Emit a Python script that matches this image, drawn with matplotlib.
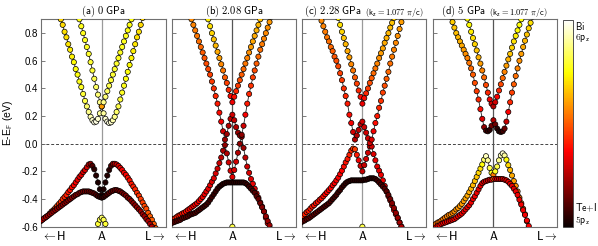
import numpy as np
import matplotlib
matplotlib.use('Agg')
import matplotlib.pyplot as plt
import matplotlib.transforms as mtransforms
from matplotlib.cm import ScalarMappable
from matplotlib.colors import Normalize
from matplotlib.ticker import FormatStrFormatter

plt.rcParams['mathtext.fontset'] = 'cm'
plt.rcParams['font.family'] = ['Liberation Sans', 'DejaVu Sans']
plt.rcParams['axes.unicode_minus'] = False

# ---------------------------------------------------------------------------
# Data: energies (eV) on a uniform k mesh (step DK), weights = Bi 6pz share
# ---------------------------------------------------------------------------
DK = 0.03

# (a) 0 GPa
A_C1_K0 = -0.69
A_C1_E = [0.95, 0.90, 0.86, 0.81, 0.77, 0.72, 0.68, 0.63, 0.59, 0.54,
          0.50, 0.45, 0.41, 0.36, 0.31, 0.27, 0.23, 0.195, 0.17, 0.155,
          0.16, 0.18, 0.22, 0.27, 0.22, 0.18, 0.16, 0.15, 0.155, 0.17,
          0.195, 0.23, 0.27, 0.32, 0.37, 0.42, 0.47, 0.52, 0.57, 0.62,
          0.67, 0.72, 0.77, 0.81, 0.86, 0.91]
A_C1_W = [0.68, 0.68, 0.69, 0.70, 0.70, 0.71, 0.72, 0.73, 0.74, 0.75,
          0.76, 0.77, 0.78, 0.80, 0.82, 0.85, 0.88, 0.92, 0.95, 0.97,
          0.97, 0.95, 0.90, 0.60, 0.90, 0.95, 0.97, 0.97, 0.95, 0.92,
          0.88, 0.85, 0.82, 0.80, 0.78, 0.77, 0.76, 0.75, 0.74, 0.73,
          0.72, 0.71, 0.70, 0.70, 0.69, 0.68]
A_C2_K0 = -0.39
A_C2_E = [0.95, 0.90, 0.85, 0.80, 0.75, 0.70, 0.65, 0.59, 0.53, 0.47,
          0.41, 0.355, 0.30, 0.27, 0.30, 0.34, 0.38, 0.42, 0.46, 0.50,
          0.54, 0.58, 0.62, 0.66, 0.70, 0.74, 0.78, 0.82, 0.86, 0.90,
          0.94]
A_C2_W = [0.76, 0.76, 0.77, 0.77, 0.78, 0.78, 0.79, 0.80, 0.80, 0.82,
          0.84, 0.86, 0.88, 0.60, 0.88, 0.86, 0.84, 0.82, 0.80, 0.80,
          0.79, 0.79, 0.78, 0.78, 0.78, 0.77, 0.77, 0.76, 0.76, 0.76,
          0.76]
A_V1_K0 = -0.99
A_V1_E = [-0.56, -0.55, -0.54, -0.53, -0.52, -0.505, -0.49, -0.48, -0.465, -0.45,
          -0.435, -0.42, -0.40, -0.385, -0.37, -0.35, -0.335, -0.315, -0.30, -0.28,
          -0.26, -0.24, -0.225, -0.205, -0.19, -0.17, -0.15, -0.145, -0.16, -0.185,
          -0.23, -0.28, -0.33, -0.37, -0.33, -0.28, -0.23, -0.19, -0.16, -0.145,
          -0.145, -0.15, -0.16, -0.175, -0.19, -0.21, -0.225, -0.245, -0.265, -0.29,
          -0.31, -0.33, -0.355, -0.375, -0.40, -0.425, -0.45, -0.47, -0.50, -0.525,
          -0.55, -0.58, -0.61]
A_V1_W = [0.52, 0.52, 0.51, 0.51, 0.50, 0.50, 0.49, 0.48, 0.47, 0.46,
          0.45, 0.44, 0.43, 0.42, 0.41, 0.40, 0.39, 0.38, 0.37, 0.36,
          0.35, 0.34, 0.33, 0.32, 0.31, 0.30, 0.27, 0.20, 0.10, 0.05,
          0.04, 0.03, 0.03, 0.03, 0.03, 0.03, 0.04, 0.05, 0.10, 0.20,
          0.27, 0.30, 0.32, 0.34, 0.35, 0.36, 0.37, 0.38, 0.39, 0.40,
          0.41, 0.42, 0.43, 0.44, 0.45, 0.46, 0.47, 0.48, 0.49, 0.50,
          0.50, 0.50, 0.50]
A_V2_K0 = -0.99
A_V2_E = [-0.56, -0.55, -0.54, -0.53, -0.52, -0.51, -0.50, -0.49, -0.48, -0.47,
          -0.46, -0.45, -0.44, -0.43, -0.42, -0.41, -0.40, -0.39, -0.38, -0.37,
          -0.365, -0.355, -0.35, -0.345, -0.345, -0.345, -0.345, -0.35, -0.355, -0.36,
          -0.37, -0.38, -0.385, -0.39, -0.385, -0.375, -0.365, -0.355, -0.345, -0.34,
          -0.335, -0.335, -0.34, -0.345, -0.355, -0.365, -0.375, -0.39, -0.40, -0.415,
          -0.43, -0.445, -0.46, -0.475, -0.49, -0.51, -0.525, -0.545, -0.56, -0.58,
          -0.60, -0.62]
A_V2_W = [0.25, 0.25, 0.24, 0.24, 0.23, 0.23, 0.22, 0.22, 0.21, 0.21,
          0.20, 0.20, 0.20, 0.20, 0.19, 0.19, 0.19, 0.19, 0.18, 0.18,
          0.18, 0.17, 0.17, 0.16, 0.16, 0.15, 0.15, 0.14, 0.13, 0.12,
          0.10, 0.08, 0.06, 0.05, 0.06, 0.08, 0.10, 0.12, 0.13, 0.14,
          0.15, 0.15, 0.16, 0.16, 0.17, 0.17, 0.18, 0.18, 0.19, 0.19,
          0.20, 0.20, 0.21, 0.21, 0.22, 0.22, 0.23, 0.23, 0.24, 0.24,
          0.25, 0.25]
A_V3_K0 = -0.09
A_V3_E = [-0.63, -0.58, -0.55, -0.535, -0.55, -0.58, -0.63]
A_V3_W = [0.78, 0.80, 0.82, 0.85, 0.82, 0.80, 0.78]

# (b) 2.08 GPa
B_C1_K0 = -0.69
B_C1_E = [0.94, 0.90, 0.86, 0.82, 0.78, 0.74, 0.70, 0.66, 0.62, 0.58,
          0.54, 0.50, 0.45, 0.40, 0.345, 0.29, 0.225, 0.16, 0.09, 0.03,
          0.07, 0.13, 0.18, 0.21, 0.17, 0.12, 0.08, 0.06, 0.065, 0.13,
          0.21, 0.29, 0.36, 0.42, 0.48, 0.53, 0.58, 0.63, 0.68, 0.72,
          0.76, 0.80, 0.84, 0.88, 0.92]
B_C1_W = [0.58, 0.57, 0.56, 0.55, 0.54, 0.53, 0.52, 0.50, 0.49, 0.48,
          0.47, 0.46, 0.45, 0.43, 0.42, 0.40, 0.38, 0.35, 0.30, 0.22,
          0.22, 0.25, 0.28, 0.30, 0.28, 0.25, 0.22, 0.20, 0.20, 0.30,
          0.36, 0.40, 0.42, 0.44, 0.46, 0.48, 0.50, 0.52, 0.53, 0.55,
          0.56, 0.57, 0.58, 0.59, 0.60]
B_C2_K0 = -0.42
B_C2_E = [0.95, 0.90, 0.85, 0.80, 0.755, 0.71, 0.665, 0.62, 0.575, 0.53,
          0.48, 0.44, 0.39, 0.345, 0.30, 0.34, 0.38, 0.42, 0.46, 0.50,
          0.54, 0.58, 0.62, 0.66, 0.70, 0.74, 0.78, 0.82, 0.86, 0.90,
          0.94]
B_C2_W = [0.72, 0.72, 0.70, 0.68, 0.66, 0.64, 0.62, 0.60, 0.57, 0.54,
          0.50, 0.46, 0.42, 0.38, 0.34, 0.38, 0.42, 0.45, 0.48, 0.50,
          0.52, 0.54, 0.56, 0.58, 0.60, 0.61, 0.62, 0.63, 0.64, 0.65,
          0.66]
B_V1_K0 = -0.99
B_V1_E = [-0.55, -0.545, -0.54, -0.53, -0.52, -0.515, -0.505, -0.50, -0.49, -0.48,
          -0.47, -0.46, -0.45, -0.44, -0.43, -0.415, -0.40, -0.385, -0.365, -0.345,
          -0.325, -0.30, -0.275, -0.25, -0.215, -0.18, -0.14, -0.10, -0.05, -0.01,
          -0.07, -0.135, -0.195, -0.24, -0.19, -0.13, -0.065, 0.00, 0.05, -0.03,
          -0.10, -0.165, -0.21, -0.255, -0.29, -0.325, -0.36, -0.39, -0.425, -0.455,
          -0.49, -0.535, -0.575, -0.615]
B_V1_W = [0.42, 0.42, 0.41, 0.41, 0.40, 0.40, 0.39, 0.39, 0.38, 0.38,
          0.37, 0.37, 0.36, 0.36, 0.35, 0.35, 0.35, 0.34, 0.34, 0.34,
          0.33, 0.33, 0.32, 0.32, 0.31, 0.30, 0.29, 0.27, 0.24, 0.20,
          0.25, 0.30, 0.32, 0.33, 0.32, 0.30, 0.25, 0.20, 0.18, 0.22,
          0.27, 0.30, 0.31, 0.32, 0.33, 0.33, 0.34, 0.34, 0.35, 0.35,
          0.35, 0.36, 0.36, 0.37]
B_V2_K0 = -0.99
B_V2_E = [-0.575, -0.57, -0.565, -0.56, -0.555, -0.55, -0.54, -0.535, -0.53, -0.525,
          -0.515, -0.51, -0.505, -0.50, -0.49, -0.48, -0.47, -0.46, -0.45, -0.44,
          -0.425, -0.405, -0.385, -0.365, -0.345, -0.325, -0.31, -0.30, -0.29, -0.285,
          -0.28, -0.28, -0.28, -0.28, -0.28, -0.28, -0.28, -0.28, -0.28, -0.28,
          -0.285, -0.295, -0.31, -0.325, -0.34, -0.355, -0.38, -0.40, -0.43, -0.46,
          -0.49, -0.525, -0.56, -0.59, -0.62]
B_V2_W = [0.14, 0.14, 0.13, 0.13, 0.13, 0.12, 0.12, 0.12, 0.11, 0.11,
          0.11, 0.10, 0.10, 0.10, 0.09, 0.09, 0.09, 0.08, 0.08, 0.08,
          0.07, 0.07, 0.07, 0.06, 0.06, 0.06, 0.05, 0.05, 0.05, 0.05,
          0.05, 0.05, 0.05, 0.05, 0.05, 0.05, 0.05, 0.05, 0.05, 0.06,
          0.06, 0.07, 0.08, 0.09, 0.10, 0.11, 0.12, 0.14, 0.16, 0.18,
          0.20, 0.21, 0.22, 0.23, 0.24]
B_V3_K0 = -0.03
B_V3_E = [-0.65, -0.60, -0.65]
B_V3_W = [0.80, 0.82, 0.80]

# (c) 2.28 GPa
C_C1_K0 = -0.69
C_C1_E = [0.93, 0.89, 0.85, 0.81, 0.77, 0.74, 0.70, 0.67, 0.63, 0.60,
          0.56, 0.51, 0.46, 0.40, 0.345, 0.29, 0.21, 0.15, 0.085, 0.03,
          0.06, 0.10, 0.14, 0.16, 0.12, 0.08, 0.04, 0.005, 0.03, 0.09,
          0.15, 0.20, 0.26, 0.31, 0.37, 0.42, 0.47, 0.52, 0.58, 0.63,
          0.68, 0.73, 0.78, 0.83, 0.88, 0.93]
C_C1_W = [0.58, 0.57, 0.56, 0.55, 0.54, 0.53, 0.52, 0.50, 0.49, 0.48,
          0.47, 0.46, 0.45, 0.43, 0.42, 0.40, 0.38, 0.35, 0.30, 0.25,
          0.25, 0.27, 0.28, 0.30, 0.30, 0.30, 0.30, 0.30, 0.32, 0.35,
          0.38, 0.40, 0.42, 0.44, 0.46, 0.48, 0.50, 0.52, 0.53, 0.55,
          0.56, 0.57, 0.58, 0.59, 0.60, 0.60]
C_C2_K0 = -0.42
C_C2_E = [0.96, 0.91, 0.86, 0.81, 0.765, 0.72, 0.67, 0.625, 0.575, 0.53,
          0.48, 0.435, 0.385, 0.34, 0.29, 0.33, 0.365, 0.40, 0.44, 0.475,
          0.51, 0.545, 0.58, 0.62, 0.655, 0.69, 0.73, 0.765, 0.80, 0.84,
          0.875, 0.91]
C_C2_W = [0.72, 0.72, 0.70, 0.68, 0.66, 0.64, 0.62, 0.60, 0.57, 0.54,
          0.50, 0.46, 0.42, 0.38, 0.34, 0.38, 0.42, 0.45, 0.48, 0.50,
          0.52, 0.54, 0.56, 0.58, 0.60, 0.61, 0.62, 0.63, 0.64, 0.65,
          0.66, 0.67]
C_V1_K0 = -0.99
C_V1_E = [-0.53, -0.52, -0.51, -0.495, -0.485, -0.47, -0.455, -0.445, -0.43, -0.42,
          -0.405, -0.395, -0.38, -0.365, -0.35, -0.335, -0.32, -0.30, -0.285, -0.265,
          -0.245, -0.22, -0.195, -0.165, -0.135, -0.11, -0.08, -0.05, -0.035, -0.04,
          -0.08, -0.12, -0.16, -0.20, -0.155, -0.11, -0.065, -0.02, -0.02, -0.075,
          -0.12, -0.165, -0.195, -0.225, -0.265, -0.305, -0.345, -0.38, -0.41, -0.445,
          -0.48, -0.51, -0.54, -0.57, -0.60, -0.63]
C_V1_W = [0.42, 0.42, 0.41, 0.41, 0.40, 0.40, 0.40, 0.39, 0.39, 0.39,
          0.38, 0.38, 0.38, 0.37, 0.37, 0.37, 0.36, 0.36, 0.36, 0.36,
          0.36, 0.36, 0.37, 0.38, 0.39, 0.40, 0.41, 0.42, 0.44, 0.45,
          0.40, 0.35, 0.30, 0.28, 0.28, 0.30, 0.30, 0.30, 0.30, 0.32,
          0.33, 0.33, 0.33, 0.34, 0.34, 0.34, 0.35, 0.35, 0.35, 0.35,
          0.36, 0.36, 0.36, 0.37, 0.37, 0.37]
C_V2_K0 = -0.99
C_V2_E = [-0.57, -0.56, -0.555, -0.545, -0.54, -0.53, -0.52, -0.51, -0.50, -0.49,
          -0.48, -0.47, -0.46, -0.45, -0.44, -0.43, -0.415, -0.40, -0.385, -0.37,
          -0.35, -0.335, -0.315, -0.30, -0.285, -0.275, -0.27, -0.265, -0.265, -0.265,
          -0.265, -0.265, -0.265, -0.265, -0.26, -0.26, -0.255, -0.25, -0.25, -0.25,
          -0.255, -0.265, -0.28, -0.295, -0.31, -0.325, -0.345, -0.37, -0.40, -0.43,
          -0.465, -0.50, -0.535, -0.57, -0.60, -0.635]
C_V2_W = [0.14, 0.14, 0.13, 0.13, 0.13, 0.12, 0.12, 0.12, 0.11, 0.11,
          0.11, 0.10, 0.10, 0.10, 0.09, 0.09, 0.09, 0.08, 0.08, 0.08,
          0.07, 0.07, 0.07, 0.06, 0.06, 0.06, 0.05, 0.05, 0.05, 0.05,
          0.05, 0.05, 0.05, 0.05, 0.05, 0.05, 0.05, 0.05, 0.05, 0.05,
          0.06, 0.07, 0.08, 0.09, 0.10, 0.11, 0.12, 0.14, 0.16, 0.18,
          0.20, 0.21, 0.22, 0.23, 0.24, 0.25]
C_V3_K0 = -0.03
C_V3_E = [-0.65, -0.60, -0.65]
C_V3_W = [0.80, 0.82, 0.80]

# (d) 5 GPa
D_C1_K0 = -0.69
D_C1_E = [0.92, 0.88, 0.84, 0.80, 0.77, 0.74, 0.71, 0.68, 0.65, 0.62,
          0.585, 0.545, 0.50, 0.44, 0.38, 0.32, 0.25, 0.18, 0.12, 0.095,
          0.09, 0.10, 0.13, 0.17, 0.14, 0.11, 0.09, 0.085, 0.09, 0.11,
          0.16, 0.23, 0.30, 0.37, 0.43, 0.49, 0.545, 0.60, 0.65, 0.70,
          0.745, 0.79, 0.835, 0.875, 0.92]
D_C1_W = [0.68, 0.67, 0.66, 0.65, 0.64, 0.63, 0.62, 0.60, 0.58, 0.56,
          0.54, 0.52, 0.50, 0.48, 0.45, 0.42, 0.38, 0.32, 0.20, 0.10,
          0.06, 0.05, 0.15, 0.25, 0.15, 0.05, 0.04, 0.05, 0.08, 0.15,
          0.28, 0.36, 0.42, 0.46, 0.50, 0.53, 0.56, 0.58, 0.60, 0.62,
          0.64, 0.66, 0.68, 0.70, 0.70]
D_C2_K0 = -0.45
D_C2_E = [0.95, 0.905, 0.86, 0.81, 0.765, 0.72, 0.675, 0.625, 0.58, 0.53,
          0.48, 0.425, 0.37, 0.32, 0.29, 0.27, 0.30, 0.34, 0.385, 0.43,
          0.475, 0.52, 0.565, 0.61, 0.65, 0.695, 0.74, 0.78, 0.82, 0.86,
          0.90, 0.94]
D_C2_W = [0.76, 0.75, 0.74, 0.72, 0.70, 0.68, 0.66, 0.63, 0.60, 0.56,
          0.52, 0.47, 0.42, 0.36, 0.30, 0.25, 0.30, 0.36, 0.42, 0.47,
          0.52, 0.56, 0.60, 0.63, 0.66, 0.68, 0.70, 0.72, 0.74, 0.75,
          0.76, 0.77]
D_V1_K0 = -0.99
D_V1_E = [-0.60, -0.59, -0.58, -0.57, -0.565, -0.555, -0.545, -0.535, -0.525, -0.515,
          -0.51, -0.50, -0.49, -0.475, -0.465, -0.45, -0.435, -0.415, -0.395, -0.375,
          -0.35, -0.325, -0.30, -0.27, -0.24, -0.21, -0.18, -0.15, -0.115, -0.09,
          -0.12, -0.175, -0.21, -0.225, -0.20, -0.165, -0.12, -0.085, -0.07, -0.085,
          -0.115, -0.155, -0.19, -0.23, -0.27, -0.305, -0.345, -0.39, -0.43, -0.47,
          -0.51, -0.56, -0.61]
D_V1_W = [0.52, 0.52, 0.53, 0.53, 0.54, 0.54, 0.55, 0.55, 0.56, 0.56,
          0.57, 0.57, 0.58, 0.58, 0.59, 0.59, 0.60, 0.60, 0.61, 0.62,
          0.62, 0.63, 0.64, 0.65, 0.66, 0.68, 0.70, 0.75, 0.85, 0.93,
          0.90, 0.82, 0.78, 0.55, 0.78, 0.82, 0.88, 0.93, 0.95, 0.90,
          0.75, 0.68, 0.64, 0.62, 0.60, 0.58, 0.56, 0.55, 0.54, 0.53,
          0.52, 0.51, 0.50]
D_V2_K0 = -0.99
D_V2_E = [-0.63, -0.62, -0.605, -0.595, -0.59, -0.58, -0.575, -0.57, -0.565, -0.56,
          -0.555, -0.55, -0.545, -0.535, -0.525, -0.515, -0.505, -0.49, -0.475, -0.46,
          -0.445, -0.425, -0.40, -0.38, -0.355, -0.33, -0.305, -0.285, -0.275, -0.27,
          -0.265, -0.26, -0.26, -0.255, -0.255, -0.255, -0.255, -0.255, -0.255, -0.26,
          -0.265, -0.275, -0.29, -0.305, -0.325, -0.345, -0.37, -0.405, -0.44, -0.48,
          -0.515, -0.555, -0.595, -0.64]
D_V2_W = [0.36, 0.36, 0.36, 0.36, 0.35, 0.35, 0.35, 0.35, 0.35, 0.35,
          0.35, 0.35, 0.35, 0.34, 0.34, 0.34, 0.34, 0.34, 0.34, 0.34,
          0.34, 0.34, 0.34, 0.34, 0.34, 0.33, 0.33, 0.32, 0.32, 0.31,
          0.31, 0.31, 0.33, 0.50, 0.33, 0.31, 0.31, 0.31, 0.31, 0.32,
          0.32, 0.32, 0.33, 0.33, 0.33, 0.34, 0.34, 0.34, 0.35, 0.35,
          0.35, 0.35, 0.36, 0.36]

TITLES = ['(a) 0 GPa', '(b) 2.08 GPa', '(c) 2.28 GPa', '(d) 5 GPa']
KZ_NOTES = [None, None, r'$\mathsf{(k_z{=}1.077}\ \pi\mathsf{/c)}$',
            r'$\mathsf{(k_z{=}1.077}\ \pi\mathsf{/c)}$']
Y_TICKS = [-0.6, -0.4, -0.2, 0.0, 0.2, 0.4, 0.6, 0.8]

PANEL_BANDS = [
    [(A_V1_K0, A_V1_E, A_V1_W), (A_V2_K0, A_V2_E, A_V2_W), (A_C1_K0, A_C1_E, A_C1_W),
     (A_C2_K0, A_C2_E, A_C2_W), (A_V3_K0, A_V3_E, A_V3_W)],
    [(B_V1_K0, B_V1_E, B_V1_W), (B_V2_K0, B_V2_E, B_V2_W), (B_C1_K0, B_C1_E, B_C1_W),
     (B_C2_K0, B_C2_E, B_C2_W), (B_V3_K0, B_V3_E, B_V3_W)],
    [(C_V1_K0, C_V1_E, C_V1_W), (C_V2_K0, C_V2_E, C_V2_W), (C_C1_K0, C_C1_E, C_C1_W),
     (C_C2_K0, C_C2_E, C_C2_W), (C_V3_K0, C_V3_E, C_V3_W)],
    [(D_V1_K0, D_V1_E, D_V1_W), (D_V2_K0, D_V2_E, D_V2_W), (D_C1_K0, D_C1_E, D_C1_W),
     (D_C2_K0, D_C2_E, D_C2_W)],
]

# layout (figure fractions)
LEFTS = [0.0686, 0.2871, 0.5045, 0.7236]
BOTTOM, WIDTH, HEIGHT = 0.0785, 0.2082, 0.843
A_LINE_COLORS = ['#9a9a9a', '#555555', '#9a9a9a', '#555555']
TITLE_X = [None, None, 0.02, 0.065]


def sf(s):
    return r'$\mathsf{' + s.replace(' ', r'\ ') + '}$'


fig = plt.figure(figsize=(5.98, 2.46), dpi=100)

for i, bands in enumerate(PANEL_BANDS):
    ax = fig.add_axes([LEFTS[i], BOTTOM, WIDTH, HEIGHT])
    ax.axhline(0, color='#444444', lw=0.7, ls=(0, (3, 2)), zorder=1)
    ax.axvline(0, color=A_LINE_COLORS[i], lw=0.9, zorder=1)

    for k0, e, w in bands:
        k = k0 + DK * np.arange(len(e))
        ax.plot(k, e, color='#222222', lw=0.6, zorder=2)
        ax.scatter(k, e, c=w, cmap='hot', vmin=0, vmax=1, s=14,
                   edgecolors='k', linewidths=0.5, zorder=3)

    ax.set_xlim(-0.98, 1.03)
    ax.set_ylim(-0.6, 0.9)
    ax.set_xticks([])
    ax.set_yticks(Y_TICKS)
    ax.yaxis.set_major_formatter(FormatStrFormatter('%.1f'))
    ax.tick_params(axis='y', direction='in', length=3, width=0.6,
                   color='#666666', labelsize=7, pad=2, labelleft=(i == 0))
    for sp in ax.spines.values():
        sp.set_color('#707070')
        sp.set_linewidth(0.8)

    if i == 0:
        ax.set_ylabel(r'E-E$_\mathsf{F}$ (eV)', fontsize=7.5)
        ax.yaxis.set_label_coords(-0.205, 0.5)

    if KZ_NOTES[i] is None:
        ax.set_title(sf(TITLES[i]), fontsize=7.6, pad=2)
    else:
        t = ax.set_title(sf(TITLES[i]), fontsize=7.6, pad=2, loc='left', x=TITLE_X[i])
        ax.annotate(KZ_NOTES[i], xy=(1, 0), xycoords=t, xytext=(2.5, 0.5),
                    textcoords='offset points', ha='left', va='bottom', fontsize=6)

    trans = mtransforms.blended_transform_factory(ax.transData, ax.transAxes)
    ax.text(0, -0.045, sf('A'), transform=trans, ha='center', va='center', fontsize=8.5)
    ax.text(0.0, -0.045, r'$\leftarrow\mathsf{H}$', transform=ax.transAxes,
            ha='left', va='center', fontsize=8.5)
    ax.text(1.0, -0.045, r'$\mathsf{L}\rightarrow$', transform=ax.transAxes,
            ha='right', va='center', fontsize=8.5)

# colour bar
cax = fig.add_axes([0.941, BOTTOM, 0.0167, 0.8402])
cb = fig.colorbar(ScalarMappable(norm=Normalize(0, 1), cmap='hot'), cax=cax)
cb.set_ticks([])
cb.outline.set_linewidth(0.6)
cb.outline.set_edgecolor('#333333')
fig.text(0.9615, 0.919, sf('Bi') + '\n' + r'$\mathsf{6p_z}$', ha='left', va='top',
         fontsize=7, linespacing=1.0)
fig.text(0.9615, 0.077, r'$\mathsf{Te{+}I}$' + '\n' + r'$\mathsf{5p_z}$', ha='left',
         va='bottom', fontsize=7, linespacing=1.0)

fig.savefig('out.png', dpi=100)
